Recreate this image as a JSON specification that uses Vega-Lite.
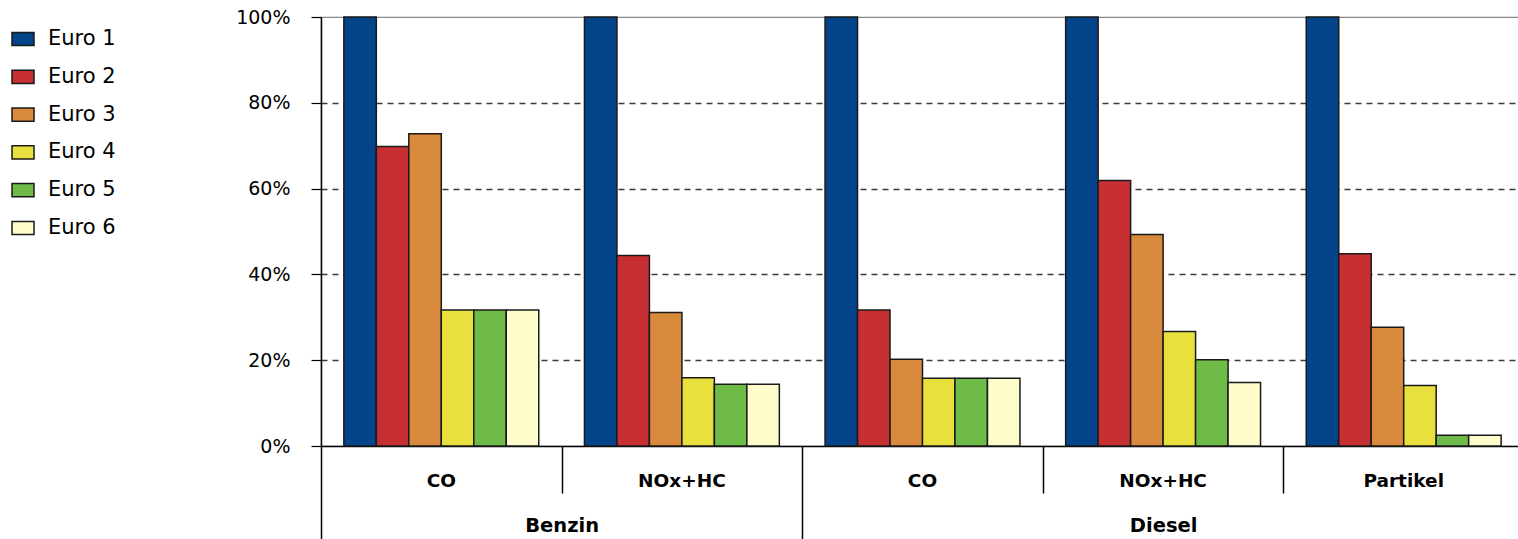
{
  "$schema": "https://vega.github.io/schema/vega-lite/v6.json",
  "width": 1203,
  "height": 429,
  "autosize": {"type": "none"},
  "padding": {"left": 321, "top": 17, "right": 0, "bottom": 93},
  "background": "white",
  "config": {
    "font": "DejaVu Sans",
    "view": {"stroke": "#8a8a8a", "strokeWidth": 1.2}
  },
  "datasets": {
    "limits": [
      {"fuel": "Benzin", "pollutant": "CO", "group": "Benzin|CO", "euro": "Euro 1", "share": 100},
      {"fuel": "Benzin", "pollutant": "CO", "group": "Benzin|CO", "euro": "Euro 2", "share": 69.8},
      {"fuel": "Benzin", "pollutant": "CO", "group": "Benzin|CO", "euro": "Euro 3", "share": 72.8},
      {"fuel": "Benzin", "pollutant": "CO", "group": "Benzin|CO", "euro": "Euro 4", "share": 31.7},
      {"fuel": "Benzin", "pollutant": "CO", "group": "Benzin|CO", "euro": "Euro 5", "share": 31.7},
      {"fuel": "Benzin", "pollutant": "CO", "group": "Benzin|CO", "euro": "Euro 6", "share": 31.7},
      {"fuel": "Benzin", "pollutant": "NOx+HC", "group": "Benzin|NOx+HC", "euro": "Euro 1", "share": 100},
      {"fuel": "Benzin", "pollutant": "NOx+HC", "group": "Benzin|NOx+HC", "euro": "Euro 2", "share": 44.4},
      {"fuel": "Benzin", "pollutant": "NOx+HC", "group": "Benzin|NOx+HC", "euro": "Euro 3", "share": 31.1},
      {"fuel": "Benzin", "pollutant": "NOx+HC", "group": "Benzin|NOx+HC", "euro": "Euro 4", "share": 15.9},
      {"fuel": "Benzin", "pollutant": "NOx+HC", "group": "Benzin|NOx+HC", "euro": "Euro 5", "share": 14.4},
      {"fuel": "Benzin", "pollutant": "NOx+HC", "group": "Benzin|NOx+HC", "euro": "Euro 6", "share": 14.4},
      {"fuel": "Diesel", "pollutant": "CO", "group": "Diesel|CO", "euro": "Euro 1", "share": 100},
      {"fuel": "Diesel", "pollutant": "CO", "group": "Diesel|CO", "euro": "Euro 2", "share": 31.7},
      {"fuel": "Diesel", "pollutant": "CO", "group": "Diesel|CO", "euro": "Euro 3", "share": 20.2},
      {"fuel": "Diesel", "pollutant": "CO", "group": "Diesel|CO", "euro": "Euro 4", "share": 15.8},
      {"fuel": "Diesel", "pollutant": "CO", "group": "Diesel|CO", "euro": "Euro 5", "share": 15.8},
      {"fuel": "Diesel", "pollutant": "CO", "group": "Diesel|CO", "euro": "Euro 6", "share": 15.8},
      {"fuel": "Diesel", "pollutant": "NOx+HC", "group": "Diesel|NOx+HC", "euro": "Euro 1", "share": 100},
      {"fuel": "Diesel", "pollutant": "NOx+HC", "group": "Diesel|NOx+HC", "euro": "Euro 2", "share": 61.9},
      {"fuel": "Diesel", "pollutant": "NOx+HC", "group": "Diesel|NOx+HC", "euro": "Euro 3", "share": 49.3},
      {"fuel": "Diesel", "pollutant": "NOx+HC", "group": "Diesel|NOx+HC", "euro": "Euro 4", "share": 26.7},
      {"fuel": "Diesel", "pollutant": "NOx+HC", "group": "Diesel|NOx+HC", "euro": "Euro 5", "share": 20.1},
      {"fuel": "Diesel", "pollutant": "NOx+HC", "group": "Diesel|NOx+HC", "euro": "Euro 6", "share": 14.8},
      {"fuel": "Diesel", "pollutant": "Partikel", "group": "Diesel|Partikel", "euro": "Euro 1", "share": 100},
      {"fuel": "Diesel", "pollutant": "Partikel", "group": "Diesel|Partikel", "euro": "Euro 2", "share": 44.8},
      {"fuel": "Diesel", "pollutant": "Partikel", "group": "Diesel|Partikel", "euro": "Euro 3", "share": 27.7},
      {"fuel": "Diesel", "pollutant": "Partikel", "group": "Diesel|Partikel", "euro": "Euro 4", "share": 14.1},
      {"fuel": "Diesel", "pollutant": "Partikel", "group": "Diesel|Partikel", "euro": "Euro 5", "share": 2.5},
      {"fuel": "Diesel", "pollutant": "Partikel", "group": "Diesel|Partikel", "euro": "Euro 6", "share": 2.5}
    ],
    "fuelSpans": [
      {"pos": 1, "fuel": "Benzin"},
      {"pos": 3.5, "fuel": "Diesel"}
    ],
    "groupEdges": [
      {"edge": 0}, {"edge": 1}, {"edge": 2}, {"edge": 3}, {"edge": 4}, {"edge": 5}
    ]
  },
  "layer": [
    {
      "data": {"name": "limits"},
      "mark": {"type": "bar", "stroke": "#1a1a1a", "strokeWidth": 1.5},
      "encoding": {
        "x": {
          "field": "group",
          "type": "nominal",
          "sort": null,
          "scale": {"paddingInner": 0.19, "paddingOuter": 0.095},
          "axis": {
            "title": null,
            "orient": "bottom",
            "labelExpr": "split(datum.value, '|')[1]",
            "labelAngle": 0,
            "labelFont": "DejaVu Sans",
            "labelFontWeight": "bold",
            "labelFontSize": 18.5,
            "labelColor": "#000000",
            "labelBaseline": "middle",
            "labelPadding": 34,
            "ticks": false,
            "tickSize": 0,
            "domainColor": "#000000",
            "domainWidth": 1.5,
            "grid": false
          }
        },
        "xOffset": {
          "field": "euro",
          "type": "nominal",
          "sort": ["Euro 1", "Euro 2", "Euro 3", "Euro 4", "Euro 5", "Euro 6"],
          "scale": {"paddingInner": 0, "paddingOuter": 0}
        },
        "y": {
          "field": "share",
          "type": "quantitative",
          "scale": {"domain": [0, 100], "nice": false},
          "axis": {
            "title": null,
            "values": [0, 20, 40, 60, 80, 100],
            "labelExpr": "datum.value + '%'",
            "labelFont": "DejaVu Sans",
            "labelFontSize": 19,
            "labelColor": "#000000",
            "labelPadding": 21,
            "tickSize": 10,
            "tickColor": "#000000",
            "tickWidth": 1.2,
            "domainColor": "#000000",
            "domainWidth": 1.5,
            "grid": true,
            "gridColor": "#3a3a3a",
            "gridDash": [6, 5],
            "gridWidth": 1.5,
            "gridOpacity": {"condition": {"test": "datum.value == 0 || datum.value == 100", "value": 0}, "value": 1}
          }
        },
        "color": {
          "field": "euro",
          "type": "nominal",
          "scale": {
            "domain": ["Euro 1", "Euro 2", "Euro 3", "Euro 4", "Euro 5", "Euro 6"],
            "range": ["#03448a", "#c63032", "#d98a3c", "#e8e03c", "#6ebb47", "#fffdcb"]
          },
          "legend": {
            "title": null,
            "orient": "none",
            "legendX": -310,
            "legendY": 10,
            "symbolType": "M-1,-0.6H1V0.6H-1Z",
            "symbolSize": 484,
            "symbolStrokeColor": "#1a1a1a",
            "symbolStrokeWidth": 1.5,
            "symbolOpacity": 1,
            "labelFont": "DejaVu Sans",
            "labelFontSize": 21,
            "labelColor": "#000000",
            "labelOffset": 13,
            "rowPadding": 15.8
          }
        }
      }
    },
    {
      "data": {"name": "groupEdges"},
      "mark": {"type": "rule", "opacity": 0},
      "encoding": {
        "x": {
          "field": "edge",
          "type": "quantitative",
          "scale": {"domain": [0, 5], "nice": false, "zero": false},
          "axis": {
            "title": null,
            "orient": "bottom",
            "values": [0, 1, 2, 3, 4, 5],
            "labels": false,
            "domain": false,
            "grid": false,
            "tickColor": "#000000",
            "tickWidth": 1.5,
            "tickSize": {"condition": {"test": "datum.value == 0 || datum.value == 2 || datum.value == 5", "value": 93}, "value": 47}
          }
        }
      }
    },
    {
      "data": {"name": "fuelSpans"},
      "mark": {"type": "rule", "opacity": 0},
      "encoding": {
        "x": {
          "field": "pos",
          "type": "quantitative",
          "scale": {"domain": [0, 5], "nice": false, "zero": false},
          "axis": {
            "title": null,
            "orient": "bottom",
            "values": [1, 3.5],
            "labelExpr": "datum.value == 1 ? 'Benzin' : 'Diesel'",
            "labelFont": "DejaVu Sans",
            "labelFontWeight": "bold",
            "labelFontSize": 19.5,
            "labelColor": "#000000",
            "labelBaseline": "middle",
            "labelPadding": 79,
            "labelFlush": false,
            "labelOverlap": false,
            "domain": false,
            "grid": false,
            "ticks": false,
            "tickSize": 0
          }
        }
      }
    }
  ],
  "resolve": {"scale": {"x": "independent"}}
}
